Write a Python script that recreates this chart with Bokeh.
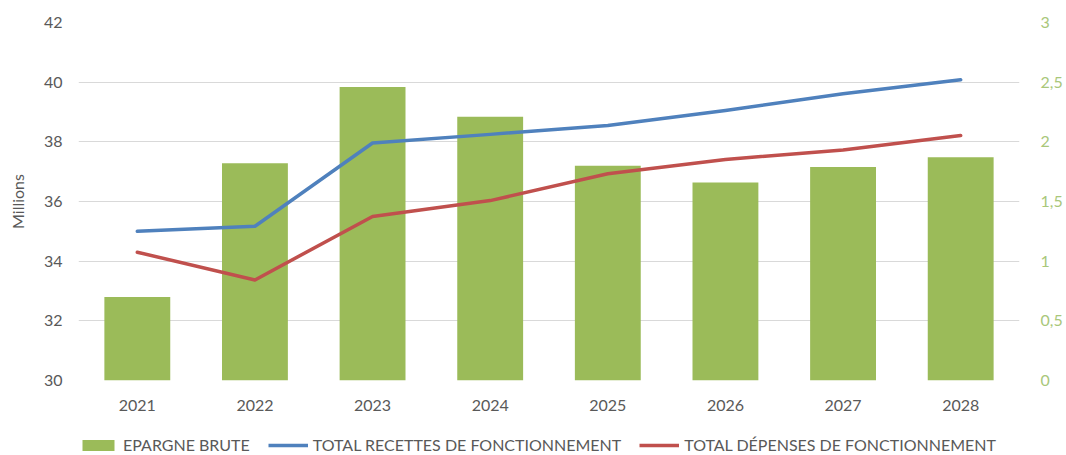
from bokeh.plotting import figure
from bokeh.layouts import column
from bokeh.models import (Range1d, LinearAxis, FixedTicker, CustomJSTickFormatter,
                          Legend, LegendItem, FactorRange)
from bokeh.embed import file_html
from bokeh.resources import INLINE

years = ["2021", "2022", "2023", "2024", "2025", "2026", "2027", "2028"]
epargne_brute = [0.70, 1.82, 2.46, 2.21, 1.80, 1.66, 1.79, 1.87]
total_recettes = [35.00, 35.17, 37.96, 38.25, 38.55, 39.05, 39.61, 40.08]
total_depenses = [34.30, 33.37, 35.50, 36.03, 36.93, 37.41, 37.73, 38.21]
left_ticks = [30, 32, 34, 36, 38, 40, 42]
right_ticks = [0, 0.5, 1, 1.5, 2, 2.5, 3]
series_labels = ["EPARGNE BRUTE", "TOTAL RECETTES DE FONCTIONNEMENT",
                 "TOTAL DÉPENSES DE FONCTIONNEMENT"]

GREEN = "#9BBB59"
BLUE = "#4F81BD"
RED = "#C0504D"
TXT = "#595959"
FONT = "Lato"

p = figure(frame_width=941, frame_height=358,
           x_range=FactorRange(factors=years),
           y_range=Range1d(30, 42),
           output_backend="svg", toolbar_location=None,
           min_border_left=78, min_border_right=40,
           min_border_top=22, min_border_bottom=0)
p.outline_line_color = None
p.extra_y_ranges = {"right": Range1d(0, 3)}

p.vbar(x=years, top=epargne_brute, width=0.56, bottom=0,
       y_range_name="right", fill_color=GREEN, line_color=None)
p.line(x=years, y=total_recettes, line_color=BLUE, line_width=3.5,
       line_cap="round", line_join="round")
p.line(x=years, y=total_depenses, line_color=RED, line_width=3.5,
       line_cap="round", line_join="round")

# grids
p.xgrid.grid_line_color = None
p.ygrid.grid_line_color = "#D9D9D9"
p.ygrid.grid_line_width = 1
p.ygrid.ticker = FixedTicker(ticks=left_ticks)

# left axis
ya = p.yaxis[0]
ya.ticker = FixedTicker(ticks=left_ticks)
ya.axis_line_color = None
ya.major_tick_line_color = None
ya.minor_tick_line_color = None
ya.major_label_standoff = 10
ya.major_label_text_font = FONT
ya.major_label_text_font_size = "16px"
ya.major_label_text_color = TXT
ya.axis_label = "Millions"
ya.axis_label_text_font = FONT
ya.axis_label_text_font_size = "16px"
ya.axis_label_text_font_style = "normal"
ya.axis_label_text_color = TXT
ya.axis_label_standoff = 14

# right axis
ra = LinearAxis(y_range_name="right",
                ticker=FixedTicker(ticks=right_ticks),
                formatter=CustomJSTickFormatter(code="return tick.toString().replace('.', ',');"))
ra.axis_line_color = None
ra.major_tick_line_color = None
ra.minor_tick_line_color = None
ra.major_label_standoff = 15
ra.major_label_text_font = FONT
ra.major_label_text_font_size = "16px"
ra.major_label_text_color = "#A9C77A"
p.add_layout(ra, "right")

# x axis
xa = p.xaxis[0]
xa.axis_line_color = None
xa.major_tick_line_color = None
xa.minor_tick_line_color = None
xa.major_label_standoff = 13
xa.major_label_text_font = FONT
xa.major_label_text_font_size = "16px"
xa.major_label_text_color = TXT

# legend strip below the chart (its series sit outside its visible y range)
lg = figure(width=1059, height=45, x_range=FactorRange(factors=years),
            y_range=Range1d(100, 101),
            output_backend="svg", toolbar_location=None, min_border=0)
lg.axis.visible = False
lg.grid.visible = False
lg.outline_line_color = None
k_bar = lg.vbar(x=years, top=epargne_brute, width=0.56, fill_color=GREEN, line_color=None)
k_l1 = lg.line(x=years, y=total_recettes, line_color=BLUE, line_width=3.5)
k_l2 = lg.line(x=years, y=total_depenses, line_color=RED, line_width=3.5)

legend = Legend(items=[
    LegendItem(label=series_labels[0], renderers=[k_bar]),
    LegendItem(label=series_labels[1], renderers=[k_l1]),
    LegendItem(label=series_labels[2], renderers=[k_l2]),
], orientation="horizontal", location=(0, 4))
legend.background_fill_alpha = 0
legend.border_line_color = None
legend.padding = 0
legend.margin = 0
legend.spacing = 18
legend.glyph_width = 40
legend.glyph_height = 14
legend.label_standoff = 5
legend.label_text_font = FONT
legend.label_text_font_size = "16px"
legend.label_text_color = TXT
legend.label_height = 14
lg.add_layout(legend)

layout = column(p, lg, spacing=0)
open("out.html", "w").write(file_html(layout, INLINE))
